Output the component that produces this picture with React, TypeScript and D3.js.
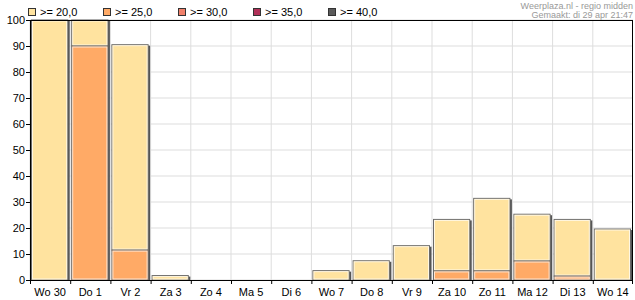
import React from "react";
import * as d3 from "d3";

const categories = ["Wo 30", "Do 1", "Vr 2", "Za 3", "Zo 4", "Ma 5", "Di 6", "Wo 7", "Do 8", "Vr 9", "Za 10", "Zo 11", "Ma 12", "Di 13", "Wo 14"];
// probability (%) of max temp >= threshold
const ge20 = [100, 100, 90.5, 1.7, 0, 0, 0, 3.6, 7.4, 13.2, 23.3, 31.4, 25.3, 23.3, 19.6];
const ge25 = [0, 90, 11.5, 0, 0, 0, 0, 0, 0, 0, 3.5, 3.5, 7.3, 1.5, 0];
const ge30 = [0, 0, 0, 0, 0, 0, 0, 0, 0, 0, 0, 0, 0, 0, 0];
const ge35 = [0, 0, 0, 0, 0, 0, 0, 0, 0, 0, 0, 0, 0, 0, 0];
const ge40 = [0, 0, 0, 0, 0, 0, 0, 0, 0, 0, 0, 0, 0, 0, 0];
const legendLabels = [">= 20,0", ">= 25,0", ">= 30,0", ">= 35,0", ">= 40,0"];
const colors = ["#FFE39F", "#FFAA66", "#F0806A", "#B03058", "#5A5A5A"];
const yTicks = [0, 10, 20, 30, 40, 50, 60, 70, 80, 90, 100];

export default function App() {
  const W = 635, H = 300;
  const m = { l: 30, r: 2, t: 20, b: 20 };
  const x = d3.scaleBand().domain(categories).range([m.l, W - m.r]).padding(0);
  const y = d3.scaleLinear().domain([0, 100]).range([H - m.b, m.t]);
  const series = [ge20, ge25, ge30, ge35, ge40];
  const font = "'Liberation Sans', Arial, sans-serif";
  const bw = x.bandwidth();

  return (
    <svg width={W} height={H} style={{ position: "absolute", left: 0, top: 0 }} fontFamily={font}>
      <rect x={0} y={0} width={W} height={H} fill="#fff" />
      {/* grid */}
      {yTicks.map((t) => (
        <line key={"gy" + t} x1={m.l} x2={W - m.r} y1={y(t)} y2={y(t)} stroke="#dddddd" strokeWidth={1} />
      ))}
      {categories.map((c, i) => (
        <line key={"gx" + i} x1={(x(c) as number)} x2={(x(c) as number)} y1={m.t} y2={H - m.b} stroke="#dddddd" strokeWidth={1} />
      ))}
      {/* bars */}
      {categories.map((c, i) => {
        const x0 = (x(c) as number) + 1.5;
        const w = bw - 4;
        const total = ge20[i];
        if (total <= 0) return null;
        const segs: JSX.Element[] = [];
        series.forEach((s, k) => {
          const top = s[i];
          const bottom = k + 1 < series.length ? series[k + 1][i] : 0;
          if (top - bottom <= 0) return;
          const yt = y(top);
          const yb = y(bottom);
          segs.push(
            <g key={k}>
              <rect x={x0} y={yt} width={w} height={yb - yt} fill={colors[k]} stroke="#6a6a6a" strokeWidth={1} />
              <rect x={x0 + 1} y={yt + 1} width={Math.max(0, w - 2)} height={Math.max(0, yb - yt - 2)} fill="none" stroke="#ffffff" strokeOpacity={0.7} strokeWidth={1} />
            </g>
          );
        });
        return (
          <g key={"b" + i}>
            <rect x={x0 + w} y={y(total) + 1} width={2} height={y(0) - y(total) - 1} fill="#555" />
            {segs}
          </g>
        );
      })}
      {/* frame */}
      <rect x={m.l + 0.5} y={m.t + 0.5} width={W - m.r - m.l - 1} height={H - m.b - m.t} fill="none" stroke="#000" strokeWidth={1} />
      {/* y axis */}
      {yTicks.map((t) => (
        <g key={"yt" + t}>
          <line x1={m.l - 4} x2={m.l} y1={y(t) + 0.5} y2={y(t) + 0.5} stroke="#000" />
          <text x={m.l - 5} y={y(t) + 4} fontSize={11} textAnchor="end" fill="#000">{t}</text>
        </g>
      ))}
      {/* x axis */}
      {categories.map((c, i) => (
        <g key={"xt" + i}>
          <line x1={(x(c) as number) + 0.5} x2={(x(c) as number) + 0.5} y1={H - m.b} y2={H - m.b + 4} stroke="#000" />
          <text x={(x(c) as number) + bw / 2} y={H - 4} fontSize={11} textAnchor="middle" fill="#000">{c}</text>
        </g>
      ))}
      <line x1={W - m.r - 0.5} x2={W - m.r - 0.5} y1={H - m.b} y2={H - m.b + 4} stroke="#000" />
      {/* legend */}
      {legendLabels.map((l, k) => (
        <g key={"lg" + k}>
          <rect x={28.5 + k * 75} y={8.5} width={7} height={7} fill={colors[k]} stroke="#333" strokeWidth={1} />
          <text x={40 + k * 75} y={16} fontSize={11} fill="#000">{l}</text>
        </g>
      ))}
      <text x={W - 2} y={8.5} fontSize={9} textAnchor="end" fill="#999">Weerplaza.nl - regio midden</text>
      <text x={W - 2} y={18} fontSize={9} textAnchor="end" fill="#999">Gemaakt: di 29 apr 21:47</text>
    </svg>
  );
}
